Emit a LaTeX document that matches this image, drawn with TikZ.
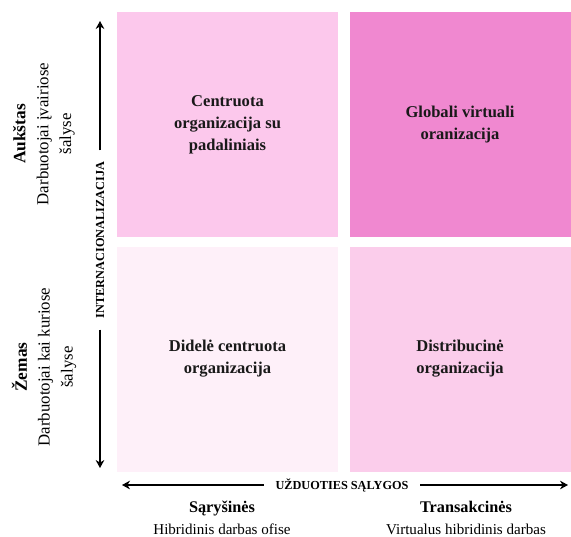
\documentclass[tikz,border=0pt]{standalone}
\usepackage{fontspec}
\setmainfont{Liberation Serif}
\usetikzlibrary{arrows.meta}
\definecolor{quadA}{RGB}{252,200,236}
\definecolor{quadB}{RGB}{240,136,208}
\definecolor{quadC}{RGB}{254,240,249}
\definecolor{quadD}{RGB}{251,205,235}
\tikzset{
  quad/.style={minimum width=165.75pt, minimum height=168.75pt, inner sep=0pt, outer sep=0pt,
    align=center, font=\fontsize{12.4}{16.5}\selectfont\bfseries, text=black!90},
  axislab/.style={font=\fontsize{9.2}{10}\selectfont\bfseries, inner xsep=8.5pt, inner ysep=2pt},
  sidelab/.style={rotate=90, align=center, font=\fontsize{12.6}{17.2}\selectfont},
  axisline/.style={line width=1.2pt, -{Stealth[length=6pt,width=6.5pt]}}
}
\begin{document}
\begin{tikzpicture}[x=0.75pt, y=-0.75pt]
        \useasboundingbox (0,0) rectangle (571,536);
        \node[quad, fill=quadA] (cent) at (227.5,124.5) {Centruota\\organizacija su\\padaliniais};
        \node[quad, fill=quadB] (glob) at (460,124.5) {Globali virtuali\\oranizacija};
        \node[quad, fill=quadC] (did) at (227.5,359) {Didelė centruota\\organizacija};
        \node[quad, fill=quadD] (dist) at (460,359) {Distribucinė\\organizacija};
        \begin{scope}
            \node[axislab, rotate=90] (intl) at (100,240) {INTERNACIONALIZACIJA};
            \coordinate (vtop) at (100,21);
            \coordinate (vbot) at (100,468);
            \draw[axisline] (intl.east) -- (vtop);
            \draw[axisline] (intl.west) -- (vbot);
            \node[axislab] (uzd) at (342,485) {UŽDUOTIES SĄLYGOS};
            \coordinate (hleft) at (122,485);
            \coordinate (hright) at (568,485);
            \draw[axisline] (uzd.west) -- (hleft);
            \draw[axisline] (uzd.east) -- (hright);
        \end{scope}
        \node[sidelab] (auk) at (44,134) {{\fontsize{13}{17.2}\selectfont\bfseries Aukštas}\\Darbuotojai įvairiose\\šalyse};
        \node[sidelab] (zem) at (44,367) {{\fontsize{13}{17.2}\selectfont\bfseries Žemas}\\Darbuotojai kai kuriose\\šalyse};
        \node[align=center, font=\fontsize{11.3}{16.5}\selectfont] (sar) at (222,518) {{\fontsize{12.2}{16.5}\selectfont\bfseries Sąryšinės}\\Hibridinis darbas ofise};
        \node[align=center, font=\fontsize{11.3}{16.5}\selectfont] (tra) at (466,518) {{\fontsize{12.2}{16.5}\selectfont\bfseries Transakcinės}\\Virtualus hibridinis darbas};
\end{tikzpicture}
\end{document}
